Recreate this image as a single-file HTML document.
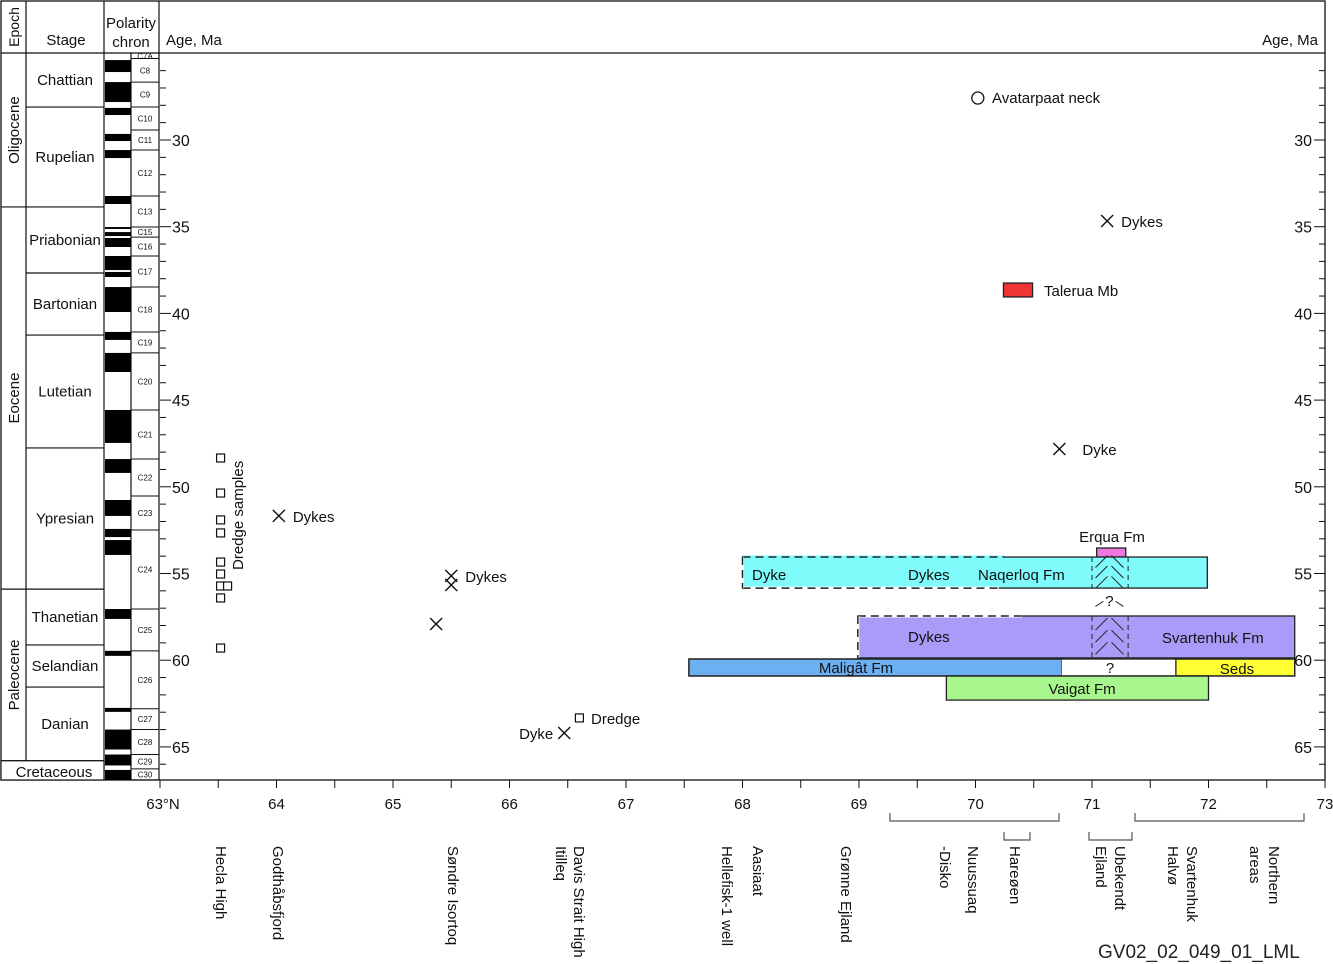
<!DOCTYPE html>
<html><head><meta charset="utf-8"><style>
body{margin:0;background:#fff}
svg{display:block;font-family:"Liberation Sans",sans-serif}
</style></head><body>
<svg id="c" width="1333" height="964" viewBox="0 0 1333 964"></svg>
<script>
const latTicks=[63,64,65,66,67,68,69,70,71,72,73];
const ageTicks=[30,35,40,45,50,55,60,65];
const stages=[["Chattian",25,28.1],["Rupelian",28.1,33.86],["Priabonian",33.86,37.67],["Bartonian",37.67,41.25],["Lutetian",41.25,47.76],["Ypresian",47.76,55.9],["Thanetian",55.9,59.12],["Selandian",59.12,61.55],["Danian",61.55,65.8]];
const epochs=[["Oligocene",25,33.86],["Eocene",33.86,55.9],["Paleocene",55.9,65.8]];
const chrons=[["C7A",25,25.3],["C8",25.3,26.66],["C9",26.66,28.1],["C10",28.1,29.42],["C11",29.42,30.58],["C12",30.58,33.23],["C13",33.23,35.02],["C15",35.02,35.6],["C16",35.6,36.69],["C17",36.69,38.48],["C18",38.48,41.07],["C19",41.07,42.28],["C20",42.28,45.57],["C21",45.57,48.4],["C22",48.4,50.53],["C23",50.53,52.49],["C24",52.49,57.05],["C25",57.05,59.46],["C26",59.46,62.8],["C27",62.8,64.0],["C28",64.0,65.44],["C29",65.44,66.27],["C30",66.27,66.9]];
const normalBands=[[25.39,26.08],[26.66,27.81],[28.15,28.56],[29.65,30.06],[30.58,31.04],[33.23,33.69],[35.02,35.13],[35.31,35.54],[35.65,36.17],[36.69,37.5],[37.61,37.9],[38.48,39.92],[41.07,41.53],[42.28,43.38],[45.57,47.47],[48.4,49.2],[50.76,51.68],[52.43,52.9],[53.07,53.93],[57.05,57.62],[59.46,59.75],[62.75,62.98],[64.0,65.15],[65.44,66.07],[66.33,66.91]];
const dredgeLat=[63.52,63.52,63.52,63.52,63.52,63.52,63.52,63.52,63.52,63.58,66.6];
const dredgeAge=[48.34,50.36,51.91,52.66,54.34,55.03,55.72,56.41,59.3,55.72,63.33];
const dykeLat=[64.02,65.5,65.5,65.37,66.47,71.13,70.72];
const dykeAge=[51.68,55.14,55.66,57.91,64.2,34.67,47.82];
const dykeLbl=["Dykes","Dykes","","","Dyke","Dykes","Dyke"];
const units=[["Talerua Mb",70.24,70.49,38.25,39.05,"#f03535"],["Erqua",71.04,71.29,53.53,54.05,"#ee77dd"],["Naqerloq Fm",68.0,71.99,54.05,55.84,"#80fbfb"],["Svartenhuk Fm",68.99,72.74,57.45,59.87,"#a89cf8"],["Maligât Fm",67.54,70.74,59.93,60.91,"#6cb0f2"],["?",70.74,71.72,59.93,60.91,"#ffffff"],["Seds",71.72,72.74,59.93,60.91,"#ffff33"],["Vaigat Fm",69.75,72.0,60.91,62.3,"#a8f78e"]];
const X=l=>160+(l-63)*116.5, Y=a=>140+(a-30)*17.34;
const S=document.getElementById('c'),NS="http://www.w3.org/2000/svg";
function mk(t,a,p){const e=document.createElementNS(NS,t);for(const k in a)e.setAttribute(k,a[k]);(p||S).appendChild(e);return e;}
function tx(s,x,y,a){const e=mk('text',Object.assign({x:x,y:y,'font-size':15,fill:'#111'},a||{}));e.textContent=s;return e;}
// frame
let e;
e=mk('rect',{x:1,y:1,width:1324,height:779,fill:'none',stroke:'#111','stroke-width':1.3});

mk('line',{x1:1,y1:53,x2:1325,y2:53,stroke:'#111','stroke-width':1.3});
[26,104,131,159].forEach((x,i)=>mk('line',{x1:x,y1:i==2?53:1,x2:x,y2:780,stroke:'#111','stroke-width':1.2}));
e=tx("Epoch",19,27,{transform:"rotate(-90 19 27)",'text-anchor':'middle','font-size':14});

e=tx("Stage",66,45,{'text-anchor':'middle'});
e=tx("Polarity",131,28,{'text-anchor':'middle'});
tx("chron",131,47,{'text-anchor':'middle'});
e=tx("Age, Ma",166,45);
e=tx("Age, Ma",1318,45,{'text-anchor':'end'});
// epochs & stages
epochs.forEach(s=>{const y1=Y(s[1]),y2=Y(s[2]);mk('line',{x1:1,y1:y2,x2:26,y2:y2,stroke:'#111','stroke-width':1.2});
 const cy=(y1+y2)/2;e=tx(s[0],19,cy,{transform:`rotate(-90 19 ${cy})`,'text-anchor':'middle'});
 });
stages.forEach(s=>{const y1=Y(s[1]),y2=Y(s[2]);mk('line',{x1:26,y1:y2,x2:104,y2:y2,stroke:'#111','stroke-width':1.2});
 e=tx(s[0],65,(y1+y2)/2+5,{'text-anchor':'middle'});});
mk('rect',{x:1,y:Y(65.8),width:103,height:780-Y(65.8),fill:'#fff',stroke:'#111','stroke-width':1.2});
e=tx("Cretaceous",54,777,{'text-anchor':'middle'});
// polarity
normalBands.forEach(b=>{e=mk('rect',{x:105,y:Y(b[0]),width:26,height:Math.max(1,Y(b[1])-Y(b[0])),fill:'#000'});
 });
chrons.forEach(c=>{const y1=Y(c[1]),y2=Math.min(780,Y(c[2]));mk('line',{x1:131,y1:y2,x2:159,y2:y2,stroke:'#111','stroke-width':1});
 e=tx(c[0],145,(y1+y2)/2+3,{'text-anchor':'middle','font-size':8});});
// y ticks
for(let a=26;a<=66;a++){const y=Y(a),maj=a%5==0;
 mk('line',{x1:160,y1:y,x2:maj?171:166,y2:y,stroke:'#111'});mk('line',{x1:1325,y1:y,x2:maj?1314:1319,y2:y,stroke:'#111'});}
ageTicks.forEach(a=>{e=tx(a,172,Y(a)+6,{'font-size':16});
 e=tx(a,1312,Y(a)+6,{'font-size':16,'text-anchor':'end'});});
// x ticks
for(let l=63;l<=73;l+=0.5)mk('line',{x1:X(l),y1:780,x2:X(l),y2:788,stroke:'#111'});
latTicks.forEach(l=>{e=tx(l==63?"63°N":l,X(l)+(l==63?3:0),809,{'text-anchor':'middle'});});
// units
units.forEach(u=>{const x1=X(u[1]),x2=X(u[2]),y1=Y(u[3]),y2=Y(u[4]);
 e=mk('rect',{x:x1,y:y1,width:x2-x1,height:y2-y1,fill:u[5],stroke:u[0]=="?"?'none':'#222','stroke-width':1.3});
 });
mk('rect',{x:X(67.54),y:Y(59.93),width:X(72.74)-X(67.54),height:Y(60.91)-Y(59.93),fill:'none',stroke:'#222','stroke-width':1.3});
// dashed overlays
function dash(x1,y1,x2,y2,col){mk('line',{x1:x1,y1:y1,x2:x2,y2:y2,stroke:col,'stroke-width':3});mk('line',{x1:x1,y1:y1,x2:x2,y2:y2,stroke:'#222','stroke-width':1.5,'stroke-dasharray':'8 5'});}
dash(X(68),Y(54.05),X(70.25),Y(54.05),'#80fbfb');dash(X(68),Y(55.84),X(70.2),Y(55.84),'#fff');dash(X(68),Y(54.05),X(68),Y(55.84),'#fff');
dash(X(68.99),Y(57.45),X(70.4),Y(57.45),'#fff');dash(X(68.99),Y(57.45),X(68.99),Y(59.87),'#fff');
// hatched column
[[54.05,55.84],[57.45,59.87]].forEach(r=>{[71.0,71.31].forEach(l=>mk('line',{x1:X(l),y1:Y(r[0]),x2:X(l),y2:Y(r[1]),stroke:'#222','stroke-dasharray':'5 4'}));});
function chev(cx,cy){mk('path',{d:`M${cx-14} ${cy+8} L${cx-2} ${cy-4} M${cx+2} ${cy-4} L${cx+14} ${cy+8}`,stroke:'#222',fill:'none'});}
chev(X(71.15),Y(54.2));chev(X(71.15),Y(54.8));chev(X(71.15),Y(55.4));
chev(X(71.15),Y(57.8));chev(X(71.15),Y(58.5));chev(X(71.15),Y(59.2));
mk('path',{d:`M${X(71.15)-14} ${Y(56.9)} L${X(71.15)-6} ${Y(56.6)} M${X(71.15)+6} ${Y(56.6)} L${X(71.15)+14} ${Y(56.9)}`,stroke:'#222',fill:'none'});
tx("?",X(71.15),Y(56.6)+5,{'text-anchor':'middle'});
// unit labels
[["Talerua Mb",1044,296],["Erqua Fm",1112,542,'middle'],["Dyke",752,580],["Dykes",908,580],["Naqerloq Fm",978,580],["Dykes",908,642],["Svartenhuk Fm",1162,643],["Maligât Fm",856,673,'middle'],["?",1110,673,'middle'],["Seds",1237,674,'middle'],["Vaigat Fm",1082,694,'middle'],["Avatarpaat neck",992,103],["Dredge",591,724]].forEach(t=>{
 e=tx(t[0],t[1],t[2],{'text-anchor':t[3]||'start'});});
// circle
e=mk('circle',{cx:X(70.02),cy:Y(27.58),r:6,fill:'none',stroke:'#111','stroke-width':1.3});

// dredge squares
dredgeLat.forEach((l,i)=>{e=mk('rect',{x:X(l)-4,y:Y(dredgeAge[i])-4,width:8,height:8,fill:'#fff',stroke:'#111','stroke-width':1.2});
 });
e=tx("Dredge samples",243,570,{transform:"rotate(-90 243 570)"});
// dykes
dykeLat.forEach((l,i)=>{const x=X(l),y=Y(dykeAge[i]);
 e=mk('path',{d:`M${x-6} ${y-6}L${x+6} ${y+6}M${x+6} ${y-6}L${x-6} ${y+6}`,stroke:'#111','stroke-width':1.4});
 
 if(dykeLbl[i]){const left=dykeLbl[i]=="Dyke"&&l<67;e=tx(dykeLbl[i],left?x-11:x+(l==70.72?23:14),y+6,{'text-anchor':left?'end':'start'});
 }});
// brackets
[[890,1059,813,821],[1004,1030,832,840],[1089,1132,832,840],[1135,1304,813,821]].forEach(b=>{
 e=mk('path',{d:`M${b[0]} ${b[2]}V${b[3]}H${b[1]}V${b[2]}`,fill:'none',stroke:'#555','stroke-width':1.2});
 });
// locality labels
[["Hecla High",216],["Godthåbsfjord",273],["Søndre Isortoq",448],["Davis Strait High",574],["Itilleq",556],["Hellefisk-1 well",722],["Aasiaat",753],["Grønne Ejland",841],["Nuussuaq",968],["-Disko",940],["Hareøen",1010],["Ubekendt",1115],["Ejland",1096],["Svartenhuk",1187],["Halvø",1168],["Northern",1269],["areas",1250]].forEach(t=>{
 e=tx(t[0],t[1],846,{transform:`rotate(90 ${t[1]} 846)`,'font-size':15});});
e=tx("GV02_02_049_01_LML",1098,958,{'font-size':19,fill:'#222'});
</script>
</body></html>
